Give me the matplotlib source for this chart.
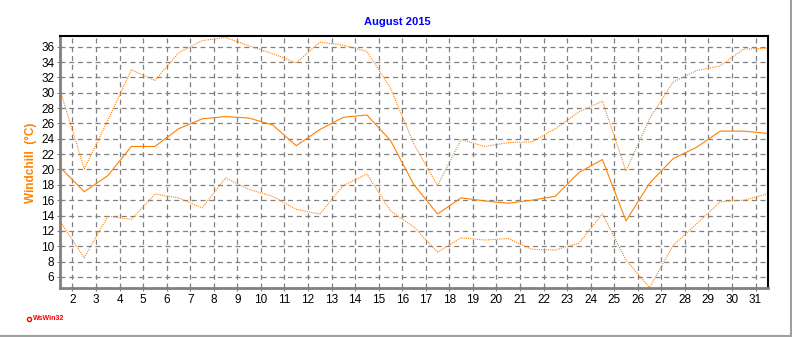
import numpy as np
import matplotlib
matplotlib.use("Agg")
import matplotlib.pyplot as plt
from matplotlib.ticker import MultipleLocator
from matplotlib.lines import Line2D

plt.rcParams['font.family'] = ['Liberation Sans', 'DejaVu Sans']

# day of month (values are plotted at mid-day)
days = list(range(1, 32))

# windchill mean / max / min (°C), August 2015
wc_mean = [20.2, 17.1, 19.2, 23.0, 23.0, 25.3, 26.6, 26.9, 26.7, 25.8,
           23.1, 25.2, 26.8, 27.1, 23.8, 18.0, 14.2, 16.3, 15.9, 15.6,
           16.0, 16.5, 19.6, 21.3, 13.3, 18.2, 21.4, 22.9, 25.0, 25.0,
           24.7]
wc_max = [30.1, 20.1, 26.4, 33.0, 31.6, 35.2, 36.8, 37.2, 36.1, 35.1,
          33.9, 36.6, 36.2, 35.4, 30.6, 23.3, 17.9, 23.9, 23.0, 23.5,
          23.6, 25.3, 27.5, 28.9, 19.8, 26.6, 31.4, 32.9, 33.5, 35.7,
          35.8]
wc_min = [13.1, 8.5, 13.9, 13.5, 16.8, 16.3, 15.0, 18.9, 17.4, 16.5,
          14.8, 14.2, 17.9, 19.4, 14.6, 12.5, 9.2, 11.1, 10.8, 11.0,
          9.6, 9.5, 10.4, 14.2, 8.2, 4.6, 10.1, 12.9, 15.8, 16.0,
          16.8]

orange = '#FF8000'

fig = plt.figure(figsize=(7.92, 3.37), dpi=100)
ax = fig.add_axes([60 / 792, 49 / 337, 708 / 792, 252 / 337])

x = np.array(days) + 0.5
ax.plot(x, wc_max, color=orange, lw=0.8, ls=(0, (1, 1)))
ax.plot(x, wc_min, color=orange, lw=0.8, ls=(0, (1, 1)))
ax.plot(x, wc_mean, color=orange, lw=0.8)

ax.set_xlim(1.47, 31.53)
ax.set_ylim(4.55, 37.4)

ax.xaxis.set_major_locator(MultipleLocator(1))
ax.xaxis.set_minor_locator(MultipleLocator(0.5))
ax.yaxis.set_major_locator(MultipleLocator(2))
ax.yaxis.set_minor_locator(MultipleLocator(1))
ax.set_xticks(range(2, 32))
ax.set_yticks(range(6, 37, 2))

ax.grid(True, which='major', color='#808080', ls=(0, (4, 3)), lw=0.9)
ax.tick_params(axis='both', which='major', labelsize=8.5, length=4,
               direction='inout', color='#808080', pad=2)
ax.tick_params(axis='both', which='minor', length=2, direction='inout',
               color='#808080')

for s in ['left', 'bottom']:
    ax.spines[s].set_color('#808080')
    ax.spines[s].set_linewidth(2)
for s in ['top', 'right']:
    ax.spines[s].set_color('black')
    ax.spines[s].set_linewidth(1.5)

fig.text(397 / 792, 1 - 22 / 337, 'August 2015', color='#0000FF',
         fontsize=8, fontweight='bold', ha='center', va='center')
fig.text(31 / 792, 1 - 163 / 337, 'Windchill  (°C)', color=orange,
         fontsize=8.5, fontweight='bold', rotation=90, ha='center', va='center')

# WsWin32 tag
fig.add_artist(Line2D([29 / 792], [1 - 319 / 337], marker='o', ms=3,
                      mfc='none', mec='red', mew=1, transform=fig.transFigure))
fig.text(33 / 792, 1 - 319 / 337, 'WsWin32', color='red', fontsize=5,
         fontweight='bold', ha='left', va='center')

# window frame
fig.add_artist(Line2D([0, 1], [1.5 / 337, 1.5 / 337], color='#A0A0A0', lw=1.5,
                      transform=fig.transFigure))
fig.add_artist(Line2D([790.5 / 792, 790.5 / 792], [0, 1], color='#A0A0A0', lw=1.5,
                      transform=fig.transFigure))

fig.savefig('out.png', dpi=100)
